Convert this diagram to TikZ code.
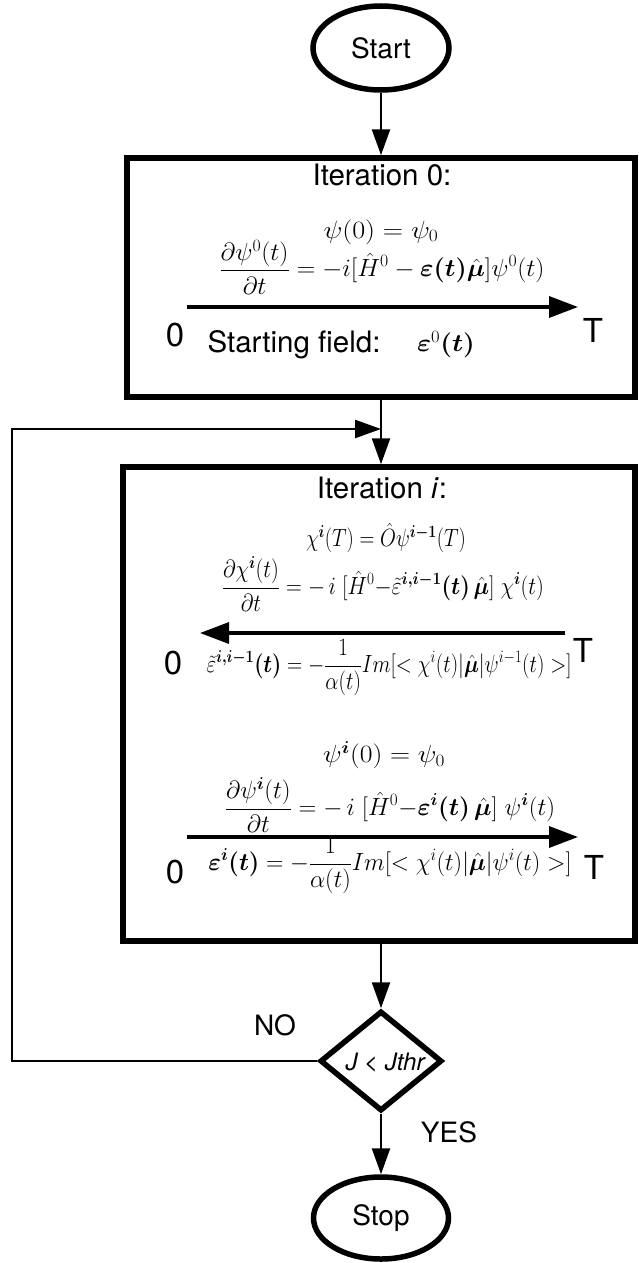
\documentclass[tikz,border=0pt]{standalone}
\usepackage{fontspec}
\usepackage{amsmath,bm}
\usepackage{graphicx}
\newfontfamily\hv{TeX Gyre Heros}
\newcommand{\fitw}[2]{\resizebox{#1}{\height}{#2}}
\usetikzlibrary{shapes.geometric,arrows.meta}
\begin{document}
\begin{tikzpicture}[x=1pt,y=-1pt,
  term/.style={ellipse,draw,line width=5.5pt,inner sep=0pt,font=\hv\fontsize{28}{32}\selectfont},
  boxst/.style={rectangle,draw,line width=5.5pt,inner sep=0pt},
  decision/.style={diamond,draw,line width=5.5pt,inner sep=0pt,minimum width=122pt,minimum height=100pt},
  conn/.style={line width=2.4pt,-{Triangle[length=26pt,width=18pt]}},
  tl/.style={line width=3.4pt,-{Triangle[length=29pt,width=21pt]}},
  lbl/.style={inner sep=0pt,font=\hv\fontsize{29.5}{33}\selectfont},
  side/.style={inner sep=0pt,font=\hv\fontsize{28}{32}\selectfont},
  big/.style={inner sep=0pt,font=\hv\fontsize{33}{36}\selectfont},
  mth/.style={inner sep=0pt,font=\fontsize{25}{30}\selectfont}]
\useasboundingbox (0,0) rectangle (638,1263);
% terminals and boxes
\node[term,minimum width=136pt,minimum height=84pt] (start) at (381,48) {Start};
\node[boxst,minimum width=508pt,minimum height=239pt] (box1) at (381,277.5) {};
\node[boxst,minimum width=512pt,minimum height=474pt] (box2) at (379,704) {};
\node[decision] (dec) at (381,1061) {};
\node[term,minimum width=135pt,minimum height=82pt] (stop) at (381,1218) {Stop};
% box 1 content
\node[lbl] (it0) at (382,175) {Iteration 0:};
\node[mth] (e0a) at (381,232) {\fitw{115pt}{$\psi(0)=\psi_0$}};
\node[mth] (e0b) at (382,267) {\fitw{325pt}{$\displaystyle\frac{\partial\psi^0(t)}{\partial t}=-i[\hat{H}^0-\bm{\varepsilon(t)\hat{\mu}}]\psi^0(t)$}};
\coordinate (a1s) at (187,307);
\coordinate (a1e) at (578,307);
\draw[tl] (a1s) -- (a1e);
\node[big] (z1) at (175,335) {0};
\node[big] (t1) at (593,330) {T};
\node[lbl] (sf) at (294,345) {Starting field:};
\node[mth] (eps0) at (446,345) {\fitw{58pt}{$\bm{\varepsilon}^0\bm{(t)}$}};
% box 2 content
\node[lbl] (iti) at (382,488) {Iteration \textit{i}:};
\node[mth] (chiT) at (386,538) {\fitw{160pt}{$\chi^{\bm{i}}(T)=\hat{O}\psi^{\bm{i-1}}(T)$}};
\node[mth] (e2) at (383,584) {\fitw{322pt}{$\displaystyle\frac{\partial\chi^{\bm{i}}(t)}{\partial t}=-\,i\;[\hat{H}^0{-}\tilde{\varepsilon}^{\bm{i,i-1}}\bm{(t)}\,\hat{\bm{\mu}}]\;\chi^{\bm{i}}(t)$}};
\coordinate (a2s) at (565,633);
\coordinate (a2e) at (200,633);
\draw[tl] (a2s) -- (a2e);
\node[big] (z2) at (173,663) {0};
\node[big] (t2) at (583,650) {T};
\node[mth] (e3) at (389,668) {\fitw{365pt}{$\displaystyle\tilde{\varepsilon}^{\bm{i,i-1}}\bm{(t)}=-\frac{1}{\alpha(t)}Im[<\chi^i(t)|\hat{\bm{\mu}}|\psi^{i-1}(t)>]$}};
\node[mth] (psiI) at (384,755) {\fitw{122pt}{$\psi^{\bm{i}}(0)=\psi_0$}};
\node[mth] (e4) at (390,805) {\fitw{330pt}{$\displaystyle\frac{\partial\psi^{\bm{i}}(t)}{\partial t}=-\,i\;[\hat{H}^0{-}\bm{\varepsilon}^{\bm{i}}\bm{(t)}\,\hat{\bm{\mu}}]\;\psi^{\bm{i}}(t)$}};
\coordinate (a3s) at (187,837);
\coordinate (a3e) at (578,837);
\draw[tl] (a3s) -- (a3e);
\node[big] (z3) at (175,872) {0};
\node[big] (t3) at (594,867) {T};
\node[mth] (e5) at (390,866) {\fitw{363pt}{$\displaystyle\bm{\varepsilon}^{\bm{i}}\bm{(t)}=-\frac{1}{\alpha(t)}Im[<\chi^i(t)|\hat{\bm{\mu}}|\psi^i(t)>]$}};
% decision text and labels
\node[inner sep=0pt,font=\hv\itshape\fontsize{24}{28}\selectfont] (dtxt) at (385,1063) {J < Jthr};
\node[side] (no) at (275,1025) {NO};
\node[side] (yes) at (449,1132) {YES};
% connectors
\coordinate (join) at (381,429);
\coordinate (lc) at (12,429);
\draw[conn] (start.south) -- (start.south |- box1.north);
\draw[conn] (box1.south) -- (box1.south |- box2.north);
\draw[conn] (dec.north |- box2.south) -- (dec.north);
\draw[conn] (dec.west) -| (lc) -- (join);
\draw[conn] (dec.south) -- (stop.north);
\end{tikzpicture}
\end{document}
